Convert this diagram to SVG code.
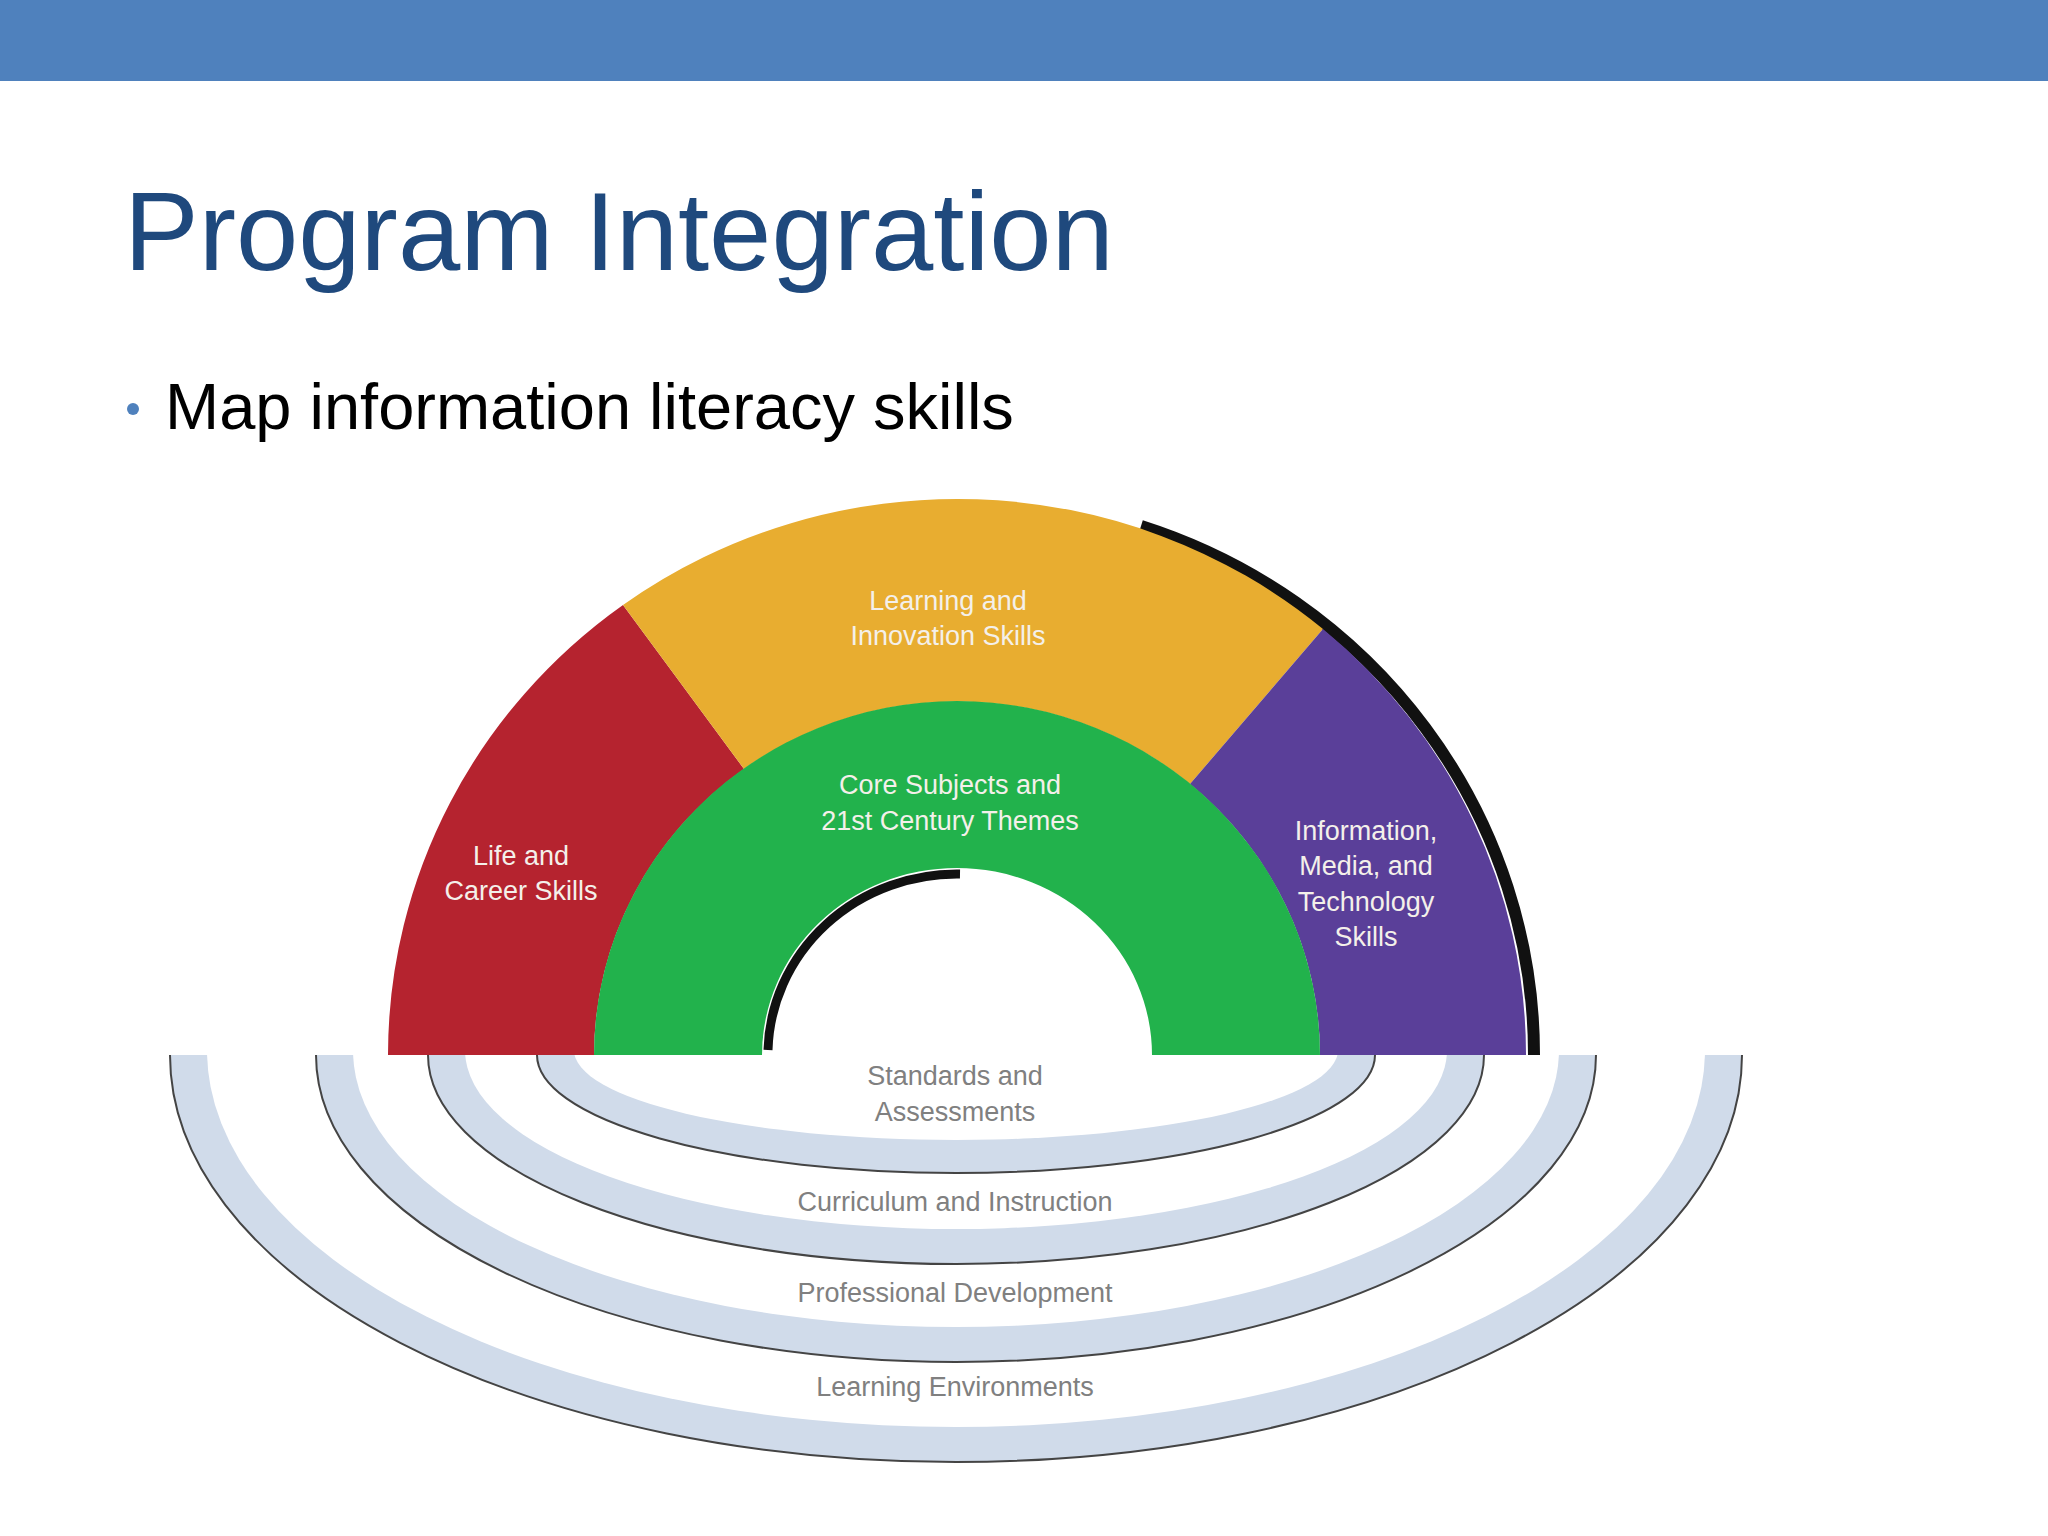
<svg xmlns="http://www.w3.org/2000/svg" width="2048" height="1536" viewBox="0 0 2048 1536">
<style>
.w{font-family:"Liberation Sans",Arial,sans-serif;font-size:27px;fill:#f4f0ea;text-anchor:middle}
.g{font-family:"Liberation Sans",Arial,sans-serif;font-size:27px;fill:#808080;text-anchor:middle}
.band{fill:#d0dbea;stroke:#444;stroke-width:2}
.hole{fill:#fff}
</style>
<defs><clipPath id="below"><rect x="0" y="1055" width="2048" height="481"/></clipPath></defs>
<rect width="2048" height="1536" fill="#fff"/>
<rect width="2048" height="81" fill="#4f81bd"/>
<text x="124" y="270" font-family="Liberation Sans,Arial,sans-serif" font-size="112" fill="#1f497d">Program Integration</text>
<circle cx="133" cy="409" r="6" fill="#4f81bd"/>
<text x="165" y="429" font-family="Liberation Sans,Arial,sans-serif" font-size="65" fill="#000">Map information literacy skills</text>
<g id="rings" clip-path="url(#below)">
<ellipse class="band" cx="956" cy="1055" rx="786" ry="407"/>
<ellipse class="hole" cx="956" cy="1050" rx="749" ry="377"/>
<ellipse class="band" cx="956" cy="1055" rx="640" ry="307"/>
<ellipse class="hole" cx="956" cy="1050" rx="603" ry="277"/>
<ellipse class="band" cx="956" cy="1055" rx="528" ry="209"/>
<ellipse class="hole" cx="956" cy="1050" rx="491" ry="179"/>
<ellipse class="band" cx="956" cy="1055" rx="419" ry="118"/>
<ellipse class="hole" cx="956" cy="1050" rx="382" ry="90"/>
</g>
<g id="ring-labels">
<text class="g" x="955" y="1085">Standards and</text>
<text class="g" x="955" y="1121">Assessments</text>
<text class="g" x="955" y="1211">Curriculum and Instruction</text>
<text class="g" x="955" y="1302">Professional Development</text>
<text class="g" x="955" y="1396">Learning Environments</text>
</g>
<path d="M1141 526 A569 556 0 0 1 1534 1055" fill="none" stroke="#111" stroke-width="12"/>
<g id="life"><path d="M388 1055 A569 556 0 0 1 623 605 L744 769 A363 354 0 0 0 594 1055 Z" fill="#b5232f"/>
<text class="w" x="521" y="865">Life and</text><text class="w" x="521" y="900">Career Skills</text></g>
<g id="learning"><path d="M623 605 A569 556 0 0 1 1323 629 L1190 784 A363 354 0 0 0 744 769 Z" fill="#e8ad30"/>
<text class="w" x="948" y="610">Learning and</text><text class="w" x="948" y="645">Innovation Skills</text></g>
<g id="info"><path d="M1323 629 A569 556 0 0 1 1526 1055 L1320 1055 A363 354 0 0 0 1190 784 Z" fill="#5a3f99"/>
<text class="w" x="1366" y="840">Information,</text><text class="w" x="1366" y="875">Media, and</text><text class="w" x="1366" y="911">Technology</text><text class="w" x="1366" y="946">Skills</text></g>
<g id="core"><path d="M594 1055 A363 354 0 0 1 1320 1055 L1152 1055 A195 187 0 0 0 762 1055 Z" fill="#22b24c"/>
<path d="M768 1050 A189 181 0 0 1 960 874" fill="none" stroke="#111" stroke-width="9"/>
<text class="w" x="950" y="794">Core Subjects and</text><text class="w" x="950" y="830">21st Century Themes</text></g>
</svg>
